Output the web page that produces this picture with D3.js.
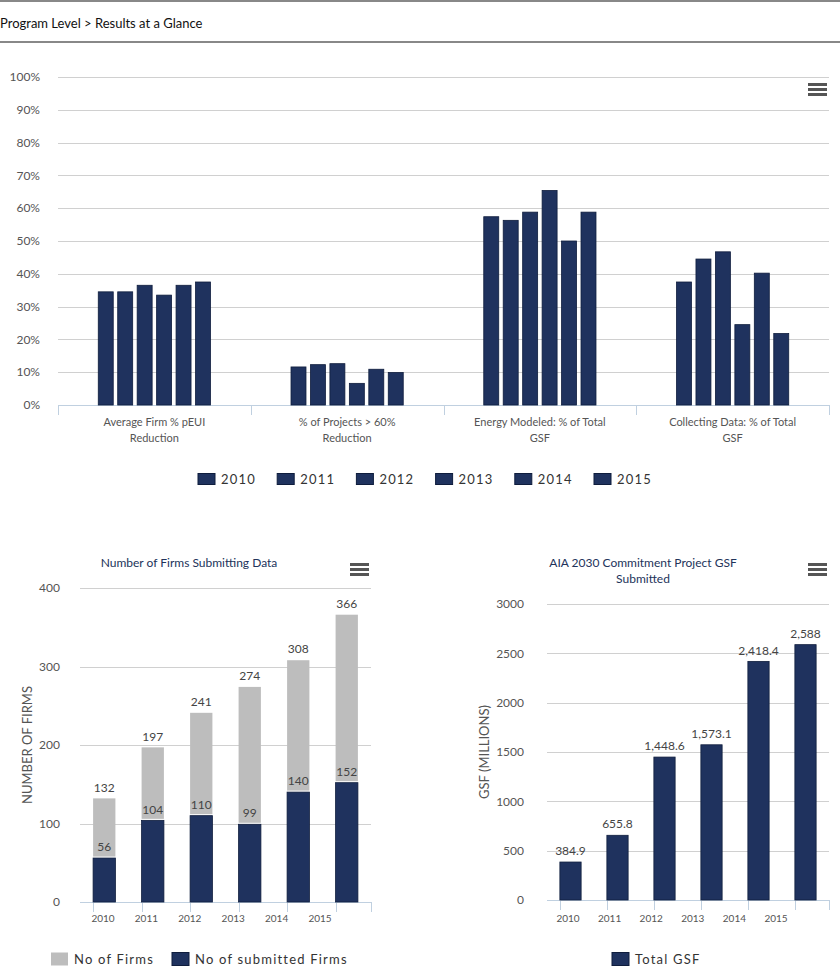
<!DOCTYPE html>
<html>
<head>
<meta charset="utf-8">
<script src="https://cdn.jsdelivr.net/npm/d3@7"></script>
<style>
  body { margin: 0; background: #fff; }
  svg { display: block; font-family: Lato, "Open Sans", sans-serif; }
</style>
</head>
<body>
<div id="chart"></div>
<script>
// --- data ---
const years = ["2010", "2011", "2012", "2013", "2014", "2015"];

const metricLabels = [
  ["Average Firm % pEUI", "Reduction"],
  ["% of Projects > 60%", "Reduction"],
  ["Energy Modeled: % of Total", "GSF"],
  ["Collecting Data: % of Total", "GSF"]
];
const pct2010 = [34.5, 11.6, 57.4, 37.5];
const pct2011 = [34.5, 12.3, 56.3, 44.5];
const pct2012 = [36.5, 12.6, 58.8, 46.7];
const pct2013 = [33.5, 6.6, 65.4, 24.5];
const pct2014 = [36.5, 10.9, 50.0, 40.2];
const pct2015 = [37.5, 9.9, 58.8, 21.8];
const pctSeries = [pct2010, pct2011, pct2012, pct2013, pct2014, pct2015];
const pctTicks = [0, 10, 20, 30, 40, 50, 60, 70, 80, 90, 100];

const firmsTotal = [132, 197, 241, 274, 308, 366];
const firmsSubmitted = [56, 104, 110, 99, 140, 152];
const firmsTicks = [0, 100, 200, 300, 400];

const gsfTotal = [384.9, 655.8, 1448.6, 1573.1, 2418.4, 2588];
const gsfTicks = [0, 500, 1000, 1500, 2000, 2500, 3000];

const navy = "#1f325e";
const navyEdge = "#0f1d3d";
const grey = "#bdbdbd";
const gridColor = "#d0d0d0";
const axisColor = "#c0d0e0";
const labelColor = "#555";

const W = 840, H = 967;
const svg = d3.select("#chart").append("svg")
  .attr("width", W)
  .attr("height", H);

// header bar
svg.append("line").attr("x1", 0).attr("x2", W).attr("y1", 1).attr("y2", 1)
  .attr("stroke", "#888").attr("stroke-width", 2);
svg.append("line").attr("x1", 0).attr("x2", W).attr("y1", 42).attr("y2", 42)
  .attr("stroke", "#888").attr("stroke-width", 2);
svg.append("text").attr("x", 0).attr("y", 28)
  .style("font-size", "13px").style("fill", "#111")
  .text("Program Level > Results at a Glance");

function menuIcon(x, y) {
  const g = svg.append("g").attr("transform", `translate(${x},${y})`);
  [0, 5, 10].forEach(dy => g.append("rect")
    .attr("x", 0).attr("y", dy).attr("width", 19).attr("height", 3)
    .attr("fill", "#555"));
}

function yGrid(y, ticks, x0, x1, fmt, labelX) {
  svg.append("g").selectAll("line")
    .data(ticks.filter(t => t !== 0))
    .join("line")
    .attr("x1", x0).attr("x2", x1)
    .attr("y1", d => Math.round(y(d)) + 0.5).attr("y2", d => Math.round(y(d)) + 0.5)
    .attr("stroke", gridColor);
  svg.append("g").selectAll("text")
    .data(ticks)
    .join("text")
    .attr("x", labelX).attr("y", d => y(d))
    .attr("dy", "0.35em")
    .attr("text-anchor", "end")
    .style("font-size", "12px").style("fill", labelColor)
    .text(fmt);
}

function xAxisLine(x, y0, x0, x1) {
  svg.append("line").attr("x1", x0).attr("x2", x1)
    .attr("y1", y0 + 0.5).attr("y2", y0 + 0.5).attr("stroke", axisColor);
  const edges = x.domain().map(d => x(d)).concat([x1]);
  svg.append("g").selectAll("line")
    .data(edges)
    .join("line")
    .attr("x1", d => Math.round(d) + 0.5).attr("x2", d => Math.round(d) + 0.5)
    .attr("y1", y0).attr("y2", y0 + 10)
    .attr("stroke", axisColor);
}

function legend(items, x0, step, y, sw, sh) {
  const g = svg.append("g");
  items.forEach((it, i) => {
    const gx = x0 + (it.x !== undefined ? it.x : i * step);
    g.append("rect").attr("x", gx).attr("y", y - sh / 2).attr("width", sw).attr("height", sh)
      .attr("fill", it.color).attr("stroke", it.edge || "none");
    g.append("text").attr("x", gx + sw + 6).attr("y", y).attr("dy", "0.38em")
      .style("font-size", "13px").style("letter-spacing", "1.2px").style("fill", "#333")
      .text(it.label);
  });
}

// --- top grouped chart ---
{
  const left = 58, right = 829, top = 77, bottom = 405;
  const x = d3.scaleBand().domain(d3.range(metricLabels.length)).range([left, right]);
  const xi = d3.scaleBand().domain(years).range([0, x.bandwidth()])
    .paddingInner(0.23).paddingOuter(2.07);
  const y = d3.scaleLinear().domain([0, 100]).range([bottom, top]);

  yGrid(y, pctTicks, left, right, d => d + "%", 40);
  xAxisLine(x, bottom, left, right);

  years.forEach((yr, s) => {
    svg.append("g").selectAll("rect")
      .data(pctSeries[s])
      .join("rect")
      .attr("x", (d, i) => x(i) + xi(yr))
      .attr("y", d => y(d))
      .attr("width", xi.bandwidth())
      .attr("height", d => bottom - y(d))
      .attr("fill", navy)
      .attr("stroke", navyEdge).attr("stroke-width", 0.8);
  });

  const lab = svg.append("g").selectAll("text")
    .data(metricLabels)
    .join("text")
    .attr("x", (d, i) => x(i) + x.bandwidth() / 2)
    .attr("y", 426)
    .attr("text-anchor", "middle")
    .style("font-size", "11px").style("fill", labelColor);
  lab.selectAll("tspan")
    .data(d => d)
    .join("tspan")
    .attr("x", function() { return this.parentNode.getAttribute("x"); })
    .attr("dy", (d, i) => i ? 16 : 0)
    .text(d => d);

  menuIcon(808, 83);
  legend(years.map(yr => ({ label: yr, color: navy, edge: navyEdge })), 198, 79.2, 479, 17, 11);
}

// --- bottom left stacked chart ---
{
  const left = 80, right = 371, top = 588, bottom = 902;
  const x = d3.scaleBand().domain(years).range([left, right]).paddingInner(0.54).paddingOuter(0.27);
  const xl = d3.scalePoint().domain(years).range([103, 320]);
  const y = d3.scaleLinear().domain([0, 400]).range([bottom, top]);

  svg.append("text").attr("x", 189).attr("y", 563).attr("dy", "0.35em")
    .attr("text-anchor", "middle").style("font-size", "12px").style("fill", "#22335a")
    .text("Number of Firms Submitting Data");

  yGrid(y, firmsTicks, left, right, d => d, 60);
  xAxisLine(x, bottom, left, right);

  svg.append("text")
    .attr("transform", `translate(27,745) rotate(-90)`)
    .attr("dy", "0.35em")
    .attr("text-anchor", "middle").style("font-size", "13px").style("fill", labelColor)
    .text("NUMBER OF FIRMS");

  svg.append("g").selectAll("rect")
    .data(years)
    .join("rect")
    .attr("x", d => x(d))
    .attr("y", (d, i) => y(firmsTotal[i]))
    .attr("width", x.bandwidth())
    .attr("height", (d, i) => y(firmsSubmitted[i]) - y(firmsTotal[i]) - 1.5)
    .attr("fill", grey);

  svg.append("g").selectAll("rect")
    .data(years)
    .join("rect")
    .attr("x", d => x(d))
    .attr("y", (d, i) => y(firmsSubmitted[i]))
    .attr("width", x.bandwidth())
    .attr("height", (d, i) => bottom - y(firmsSubmitted[i]))
    .attr("fill", navy)
    .attr("stroke", navyEdge).attr("stroke-width", 0.8);

  svg.append("g").selectAll("text")
    .data(years)
    .join("text")
    .attr("x", d => xl(d))
    .attr("y", 918).attr("dy", "0.35em")
    .attr("text-anchor", "middle").style("font-size", "10px").style("fill", labelColor)
    .text(d => d);

  const valLabels = (vals, cls) => svg.append("g").selectAll("text")
    .data(vals)
    .join("text")
    .attr("x", (d, i) => x(years[i]) + x.bandwidth() / 2)
    .attr("y", d => y(d) - 11).attr("dy", "0.35em")
    .attr("text-anchor", "middle").style("font-size", "12px").style("fill", "#444")
    .text(d => d);
  valLabels(firmsTotal);
  valLabels(firmsSubmitted);

  menuIcon(350, 563);
  legend([
    { label: "No of Firms", color: grey, x: 0 },
    { label: "No of submitted Firms", color: navy, edge: navyEdge, x: 121 }
  ], 51, 0, 959, 17, 13);
}

// --- bottom right GSF chart ---
{
  const left = 547, right = 829, top = 604, bottom = 900;
  const x = d3.scaleBand().domain(years).range([left, right]).paddingInner(0.548).paddingOuter(0.274);
  const xl = d3.scalePoint().domain(years).range([568, 776]);
  const y = d3.scaleLinear().domain([0, 3000]).range([bottom, top]);

  const t = svg.append("text").attr("x", 643).attr("y", 563).attr("dy", "0.35em")
    .attr("text-anchor", "middle").style("font-size", "12px").style("fill", "#22335a");
  t.append("tspan").attr("x", 643).text("AIA 2030 Commitment Project GSF");
  t.append("tspan").attr("x", 643).attr("dy", 16).text("Submitted");

  yGrid(y, gsfTicks, left, right, d => d, 524);
  xAxisLine(x, bottom, left, right);

  svg.append("text")
    .attr("transform", `translate(484,752) rotate(-90)`)
    .attr("dy", "0.35em")
    .attr("text-anchor", "middle").style("font-size", "13px").style("fill", labelColor)
    .text("GSF (MILLIONS)");

  svg.append("g").selectAll("rect")
    .data(gsfTotal)
    .join("rect")
    .attr("x", (d, i) => x(years[i]))
    .attr("y", d => y(d))
    .attr("width", x.bandwidth())
    .attr("height", d => bottom - y(d))
    .attr("fill", navy)
    .attr("stroke", navyEdge).attr("stroke-width", 0.8);

  svg.append("g").selectAll("text")
    .data(gsfTotal)
    .join("text")
    .attr("x", (d, i) => x(years[i]) + x.bandwidth() / 2)
    .attr("y", d => y(d) - 11).attr("dy", "0.35em")
    .attr("text-anchor", "middle").style("font-size", "12px").style("fill", "#444")
    .text(d => d3.format(",")(d));

  svg.append("g").selectAll("text")
    .data(years)
    .join("text")
    .attr("x", d => xl(d))
    .attr("y", 918).attr("dy", "0.35em")
    .attr("text-anchor", "middle").style("font-size", "10px").style("fill", labelColor)
    .text(d => d);

  menuIcon(808, 563);
  legend([{ label: "Total GSF", color: navy, edge: navyEdge }], 612, 0, 959, 17, 13);
}
</script>
</body>
</html>
